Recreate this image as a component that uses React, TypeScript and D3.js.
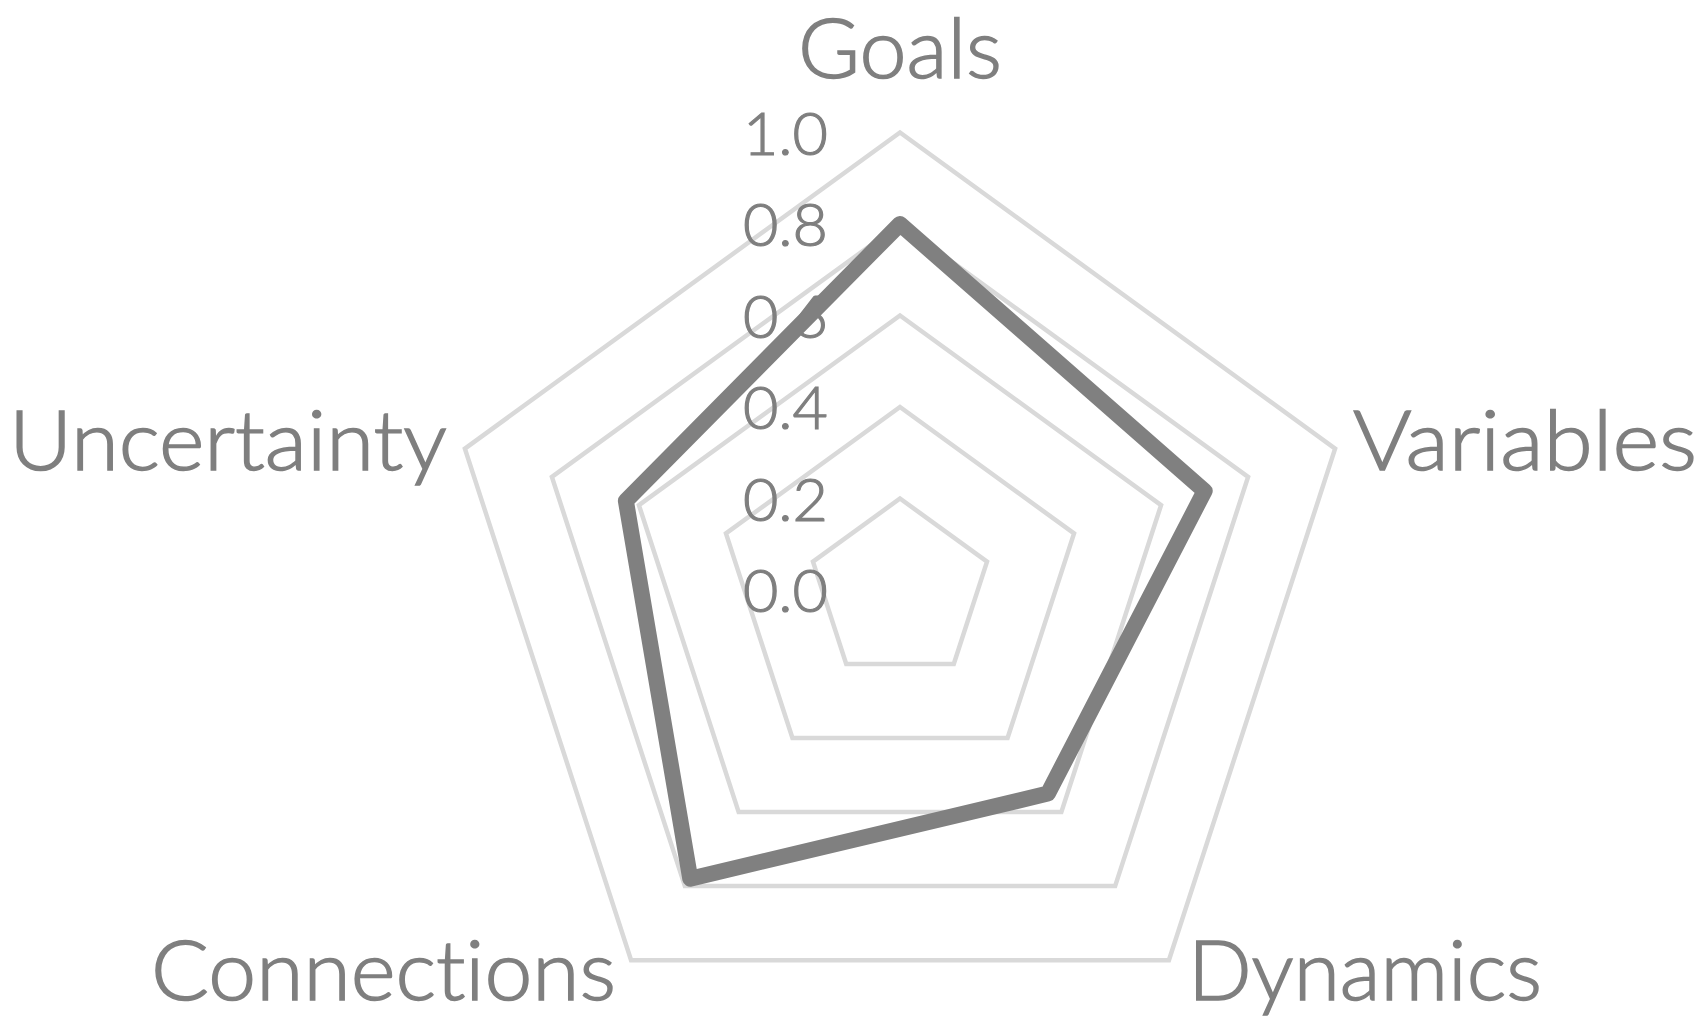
import React from 'react';
import * as d3 from 'd3';

// chart data
const categories = ['Goals', 'Variables', 'Dynamics', 'Connections', 'Uncertainty'];
const values = [0.8, 0.7, 0.55, 0.78, 0.63];
const ticks = [0, 0.2, 0.4, 0.6, 0.8, 1.0];

const W = 1704;
const H = 1028;
const cx = 900;
const cy = 590;
const R = 457.5;

const textColor = '#7f7f7f';
const gridColor = '#d9d9d9';
const lineColor = '#808080';
const font = 'Lato, "Open Sans", sans-serif';

// label placement per axis: offset from the 1.0 vertex, anchor, and target width
const labelStyle = [
  { dx: 0, dy: -55, anchor: 'middle', width: 204 },
  { dx: 18, dy: 21, anchor: 'start', width: 344 },
  { dx: 19, dy: 40, anchor: 'start', width: 354 },
  { dx: -15, dy: 40, anchor: 'end', width: 465 },
  { dx: -18, dy: 21, anchor: 'end', width: 438 },
];

const App = () => {
  const r = d3.scaleLinear().domain([0, 1]).range([0, R]);
  const angle = d3
    .scalePoint<string>()
    .domain(categories)
    .range([0, 2 * Math.PI * (categories.length - 1) / categories.length]);

  const radial = d3
    .lineRadial<number>()
    .angle((_, i) => angle(categories[i]) as number)
    .curve(d3.curveLinearClosed);

  const gridPath = (t: number) => radial.radius(() => r(t))(categories.map(() => t)) as string;
  const dataPath = radial.radius((d) => r(d))(values) as string;

  const vertex = (i: number, v: number) => {
    const a = angle(categories[i]) as number;
    return [cx + r(v) * Math.sin(a), cy - r(v) * Math.cos(a)];
  };

  // light weight, thickened a little with an outline to get near Calibri's stroke
  const textStyle = { fontVariantLigatures: 'none' as const };

  return (
    <svg width={W} height={H} style={{ position: 'absolute', left: 0, top: 0, background: '#fff' }}>
      <g transform={`translate(${cx},${cy})`}>
        {ticks
          .filter((t) => t > 0)
          .map((t) => (
            <path key={t} d={gridPath(t)} fill="none" stroke={gridColor} strokeWidth={4.5} />
          ))}
      </g>

      {ticks.map((t) => (
        <text
          key={'t' + t}
          x={cx - 72}
          y={cy - r(t) + 22}
          textAnchor="end"
          fontFamily={font}
          fontWeight={300}
          fontSize={60}
          fill={textColor}
          stroke={textColor}
          strokeWidth={1.2}
          textLength={85}
          lengthAdjust="spacingAndGlyphs"
          style={textStyle}
        >
          {t.toFixed(1)}
        </text>
      ))}

      <g transform={`translate(${cx},${cy})`}>
        <path d={dataPath} fill="none" stroke={lineColor} strokeWidth={16} strokeLinejoin="round" />
      </g>

      {categories.map((c, i) => {
        const [x, y] = vertex(i, 1);
        const s = labelStyle[i];
        return (
          <text
            key={c}
            x={x + s.dx}
            y={y + s.dy}
            textAnchor={s.anchor as any}
            fontFamily={font}
            fontWeight={300}
            fontSize={82}
            fill={textColor}
            stroke={textColor}
            strokeWidth={1.5}
            textLength={s.width}
            lengthAdjust="spacingAndGlyphs"
            style={textStyle}
          >
            {c}
          </text>
        );
      })}
    </svg>
  );
};

export default App;
